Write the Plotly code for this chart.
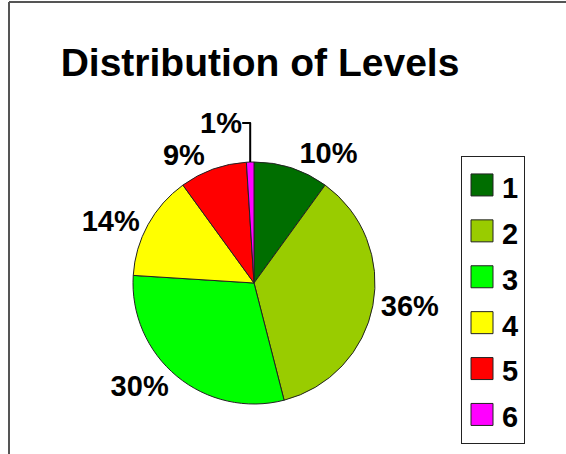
import plotly.graph_objects as go

levels = ["1", "2", "3", "4", "5", "6"]
shares = [10, 36, 30, 14, 9, 1]
colors = ["#006E00", "#99CC00", "#00FF00", "#FFFF00", "#FF0000", "#FF00FF"]
title_text = "Distribution of Levels"

W, H = 566, 454
FONT = "Liberation Sans, Arial, sans-serif"

# pie geometry (pixels)
cx, cy, r = 254, 283, 121

legend_labels = [f"<span style='font-size:29px'>{lv}</span>" for lv in levels]

fig = go.Figure(
    go.Pie(
        labels=legend_labels,
        values=shares,
        sort=False,
        direction="clockwise",
        rotation=0,
        marker=dict(colors=colors, line=dict(color="#222222", width=1)),
        texttemplate="%{percent:.0%}",
        textposition="outside",
        textfont=dict(family=FONT, size=29, color="black", weight="bold"),
        domain=dict(x=[(cx - r) / W, (cx + r) / W],
                    y=[(H - cy - r) / H, (H - cy + r) / H]),
        hoverinfo="label+percent",
    )
)

fig.update_layout(
    width=W,
    height=H,
    margin=dict(l=0, r=0, t=0, b=0),
    paper_bgcolor="white",
    plot_bgcolor="white",
    title=dict(
        text=title_text,
        x=260 / W,
        xanchor="center",
        y=1 - 62 / H,
        yanchor="middle",
        font=dict(family=FONT, size=39, color="black", weight="bold"),
    ),
    legend=dict(
        x=461 / W,
        y=1 - 156 / H,
        xanchor="left",
        yanchor="top",
        bgcolor="white",
        bordercolor="#222222",
        borderwidth=1,
        font=dict(family=FONT, size=33, color="black", weight="bold"),
        traceorder="normal",
    ),
    showlegend=True,
    shapes=[
        # outer frame: only top and left edges are visible in the crop
        dict(type="line", xref="paper", yref="paper",
             x0=9 / W, x1=1, y0=1 - 2 / H, y1=1 - 2 / H,
             line=dict(color="#555555", width=2), layer="below"),
        dict(type="line", xref="paper", yref="paper",
             x0=9 / W, x1=9 / W, y0=0, y1=1 - 2 / H,
             line=dict(color="#555555", width=2), layer="below"),
    ],
)

post = """
document.body.style.margin = '0';
document.body.style.overflow = 'hidden';
function bigSwatches() {
  document.querySelectorAll('path.legendpie').forEach(function(p) {
    p.setAttribute('d', 'M11,11H-11V-11H11Z');
    p.setAttribute('transform', 'translate(20,0)');
  });
}
bigSwatches();
setTimeout(bigSwatches, 0);
var gd = document.getElementById('{plot_id}');
if (gd && gd.on) { gd.on('plotly_afterplot', bigSwatches); }
"""

fig.write_html("out.html", post_script=post, config={"displayModeBar": False})
